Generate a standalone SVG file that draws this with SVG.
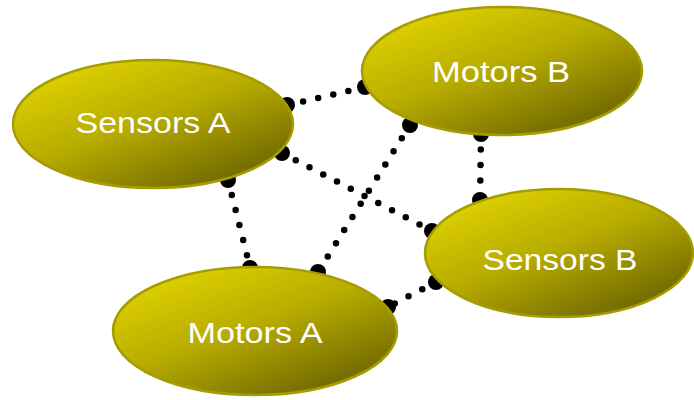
<svg xmlns="http://www.w3.org/2000/svg" width="694" height="400" viewBox="0 0 694 400">
  <defs>
    <linearGradient id="nodeFill" x1="0.15" y1="0.1" x2="0.85" y2="0.95">
      <stop offset="0" stop-color="#ddd000"/>
      <stop offset="0.45" stop-color="#b7ab00"/>
      <stop offset="1" stop-color="#6a6300"/>
    </linearGradient>
  </defs>
  <style>
    .node ellipse { fill: url(#nodeFill); stroke: #a59c00; stroke-width: 2.5; }
    .node text { font-family: "Liberation Sans", Arial, sans-serif; font-size: 29px; fill: #ffffff; text-anchor: middle; }
    .link { fill: none; stroke: #000; stroke-width: 6.5; stroke-linecap: round; stroke-dasharray: 0 15.5; }
    .end { fill: #000; }
  </style>
  <rect width="694" height="400" fill="#ffffff"/>

  <g id="connectors">
    <line class="link" x1="288" y1="105" x2="365" y2="87"/>
    <line class="link" x1="282" y1="153" x2="432" y2="231"/>
    <line class="link" x1="410" y1="125" x2="318" y2="272"/>
    <line class="link" x1="228" y1="180" x2="250" y2="267"/>
    <line class="link" x1="481" y1="134" x2="480" y2="201"/>
    <line class="link" x1="436" y1="282" x2="388" y2="307"/>
    <g class="end">
      <circle cx="287" cy="105" r="8"/><circle cx="365" cy="87" r="8"/>
      <circle cx="282" cy="153" r="8"/><circle cx="432" cy="231" r="8"/>
      <circle cx="410" cy="125" r="8"/><circle cx="318" cy="272" r="8"/>
      <circle cx="228" cy="180" r="8"/><circle cx="250" cy="268" r="8"/>
      <circle cx="481" cy="134" r="8"/><circle cx="480" cy="200" r="8"/>
      <circle cx="436" cy="282" r="8"/><circle cx="388" cy="307" r="8"/>
    </g>
  </g>

  <g id="sensors-a" class="node">
    <ellipse cx="153" cy="124" rx="140" ry="64"/>
    <text x="153" y="133" textLength="155" lengthAdjust="spacingAndGlyphs">Sensors A</text>
  </g>
  <g id="motors-b" class="node">
    <ellipse cx="502" cy="71" rx="140" ry="64"/>
    <text x="501" y="82" textLength="138" lengthAdjust="spacingAndGlyphs">Motors  B</text>
  </g>
  <g id="sensors-b" class="node">
    <ellipse cx="559" cy="253" rx="134" ry="64"/>
    <text x="560" y="270" textLength="155" lengthAdjust="spacingAndGlyphs">Sensors B</text>
  </g>
  <g id="motors-a" class="node">
    <ellipse cx="255" cy="331" rx="142" ry="64"/>
    <text x="255" y="343" textLength="135" lengthAdjust="spacingAndGlyphs">Motors A</text>
  </g>
</svg>
